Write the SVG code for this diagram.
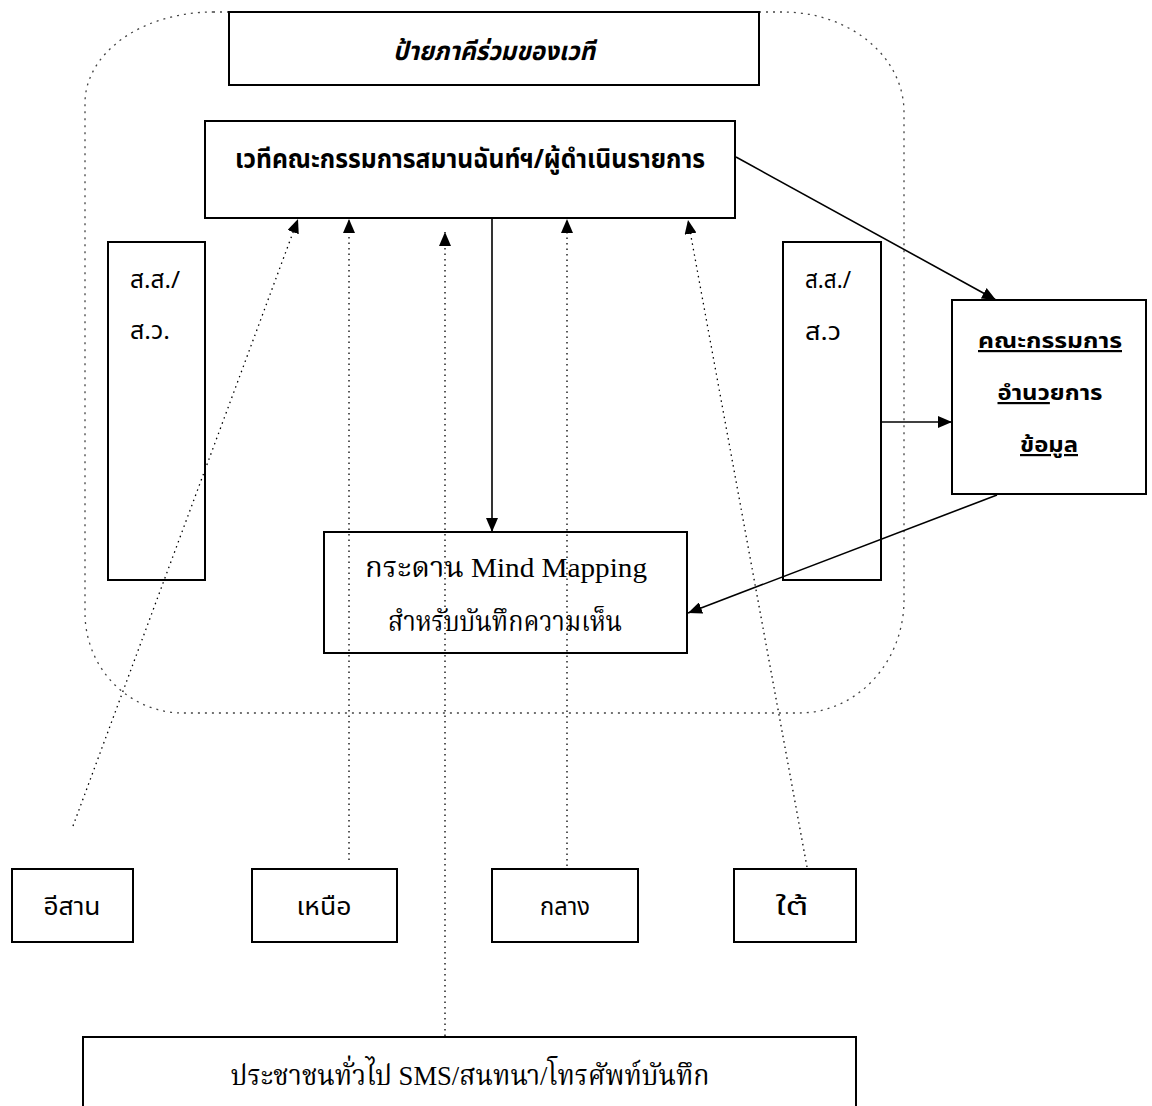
<svg xmlns="http://www.w3.org/2000/svg" width="1152" height="1106" viewBox="0 0 1152 1106">
<style>
.box{fill:#fff;stroke:#000;stroke-width:2}
.t{font-family:'Noto Sans Thai','Noto Sans Thai UI','Loma','Garuda','Norasi','Tlwg Typo','DejaVu Sans',sans-serif;fill:#000;text-anchor:middle}
.s{font-family:'Liberation Serif','Noto Serif Thai','Norasi','Noto Sans Thai','Loma',serif;fill:#000;text-anchor:middle}
.b{font-weight:bold}
.solid{fill:none;stroke:#000;stroke-width:1.6}
.dot{fill:none;stroke:#000;stroke-width:1.3;stroke-dasharray:1.5 4}
.frame{fill:none;stroke:#444;stroke-width:1.3;stroke-dasharray:2 5}
</style>
<defs>
<marker id="ah" viewBox="0 0 14 12" refX="14" refY="6" markerWidth="14" markerHeight="12" markerUnits="userSpaceOnUse" orient="auto">
<path d="M0,0 L14,6 L0,12 Z" fill="#000"/>
</marker>
</defs>
<rect width="1152" height="1106" fill="#fff"/>
<g id="frame">
<path class="frame" d="M213,12 L783,12 A121,100 0 0 1 904,112 L904,600 A105,113 0 0 1 799,713 L183,713 A98,100 0 0 1 85,613 L85,103 A128,91 0 0 1 213,12 Z"/>
</g>
<g id="connectors">
<path class="solid" d="M492,218 L492,532" marker-end="url(#ah)"/>
<path class="solid" d="M736,157 L996,300" marker-end="url(#ah)"/>
<path class="solid" d="M881,422 L952,422" marker-end="url(#ah)"/>
<path class="solid" d="M997,495 L688,613" marker-end="url(#ah)"/>
<path class="dot" d="M73,826 L298,219" marker-end="url(#ah)"/>
<path class="dot" d="M349,860 L349,219" marker-end="url(#ah)"/>
<path class="dot" d="M445,1036 L445,232" marker-end="url(#ah)"/>
<path class="dot" d="M567,866 L567,219" marker-end="url(#ah)"/>
<path class="dot" d="M807,867 L688,220" marker-end="url(#ah)"/>
</g>
<g id="title">
<rect class="box" x="229" y="12" width="530" height="73"/>
<text class="t b" x="494" y="60" font-size="26" font-style="italic" textLength="202" lengthAdjust="spacingAndGlyphs">ป้ายภาคีร่วมของเวที</text>
</g>
<g id="main">
<rect class="box" x="205" y="121" width="530" height="97" style="fill:none"/>
<text class="t b" x="470" y="168" font-size="26" textLength="470" lengthAdjust="spacingAndGlyphs">เวทีคณะกรรมการสมานฉันท์ฯ/ผู้ดำเนินรายการ</text>
</g>
<g id="ss-left">
<rect class="box" x="108" y="242" width="97" height="338" style="fill:none"/>
<text class="t" x="155" y="288" font-size="24" textLength="50" lengthAdjust="spacingAndGlyphs">ส.ส./</text>
<text class="t" x="150" y="339" font-size="24" textLength="40" lengthAdjust="spacingAndGlyphs">ส.ว.</text>
</g>
<g id="ss-right">
<rect class="box" x="783" y="242" width="98" height="338" style="fill:none"/>
<text class="t" x="828" y="288" font-size="24" textLength="46" lengthAdjust="spacingAndGlyphs">ส.ส./</text>
<text class="t" x="823" y="340" font-size="24" textLength="36" lengthAdjust="spacingAndGlyphs">ส.ว</text>
</g>
<g id="committee">
<rect class="box" x="952" y="300" width="194" height="194"/>
<text class="t b" x="1050" y="348" font-size="22" text-decoration="underline" textLength="144" lengthAdjust="spacingAndGlyphs">คณะกรรมการ</text>
<text class="t b" x="1050" y="400" font-size="22" textLength="105" lengthAdjust="spacingAndGlyphs"><tspan text-decoration="underline">อำนว</tspan>ยการ</text>
<text class="t b" x="1049" y="452" font-size="22" text-decoration="underline" textLength="58" lengthAdjust="spacingAndGlyphs">ข้อมูล</text>
</g>
<g id="mindmap">
<rect class="box" x="324" y="532" width="363" height="121" style="fill:none"/>
<text class="s" x="506" y="577" font-size="28" textLength="282" lengthAdjust="spacingAndGlyphs">กระดาน Mind Mapping</text>
<text class="s" x="505" y="631" font-size="28" textLength="234" lengthAdjust="spacingAndGlyphs">สำหรับบันทึกความเห็น</text>
</g>
<g id="isan">
<rect class="box" x="12" y="869" width="121" height="73"/>
<text class="t" x="72" y="915" font-size="24" textLength="57" lengthAdjust="spacingAndGlyphs">อีสาน</text>
</g>
<g id="north">
<rect class="box" x="252" y="869" width="145" height="73"/>
<text class="t" x="324" y="915" font-size="24" textLength="55" lengthAdjust="spacingAndGlyphs">เหนือ</text>
</g>
<g id="central">
<rect class="box" x="492" y="869" width="146" height="73"/>
<text class="t" x="565" y="915" font-size="24" textLength="50" lengthAdjust="spacingAndGlyphs">กลาง</text>
</g>
<g id="south">
<rect class="box" x="734" y="869" width="122" height="73"/>
<text class="t" x="792" y="915" font-size="24" textLength="33" lengthAdjust="spacingAndGlyphs">ใต้</text>
</g>
<g id="public">
<rect class="box" x="83" y="1037" width="773" height="80"/>
<text class="s" x="470" y="1085" font-size="28" textLength="479" lengthAdjust="spacingAndGlyphs">ประชาชนทั่วไป SMS/สนทนา/โทรศัพท์บันทึก</text>
</g>
</svg>
